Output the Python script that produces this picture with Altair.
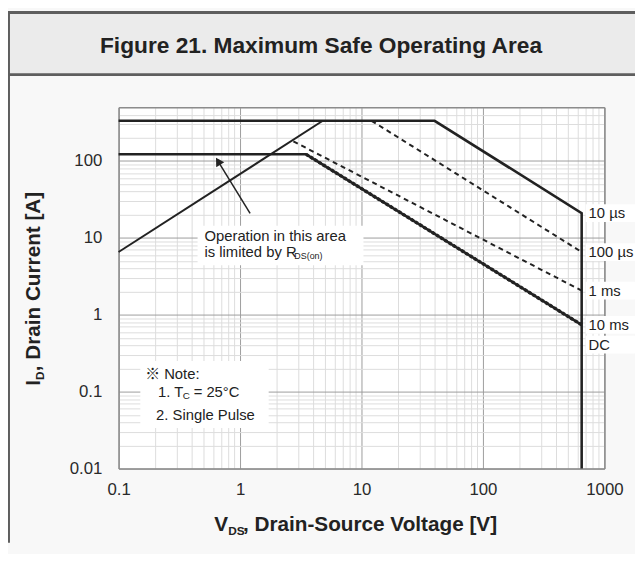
import altair as alt
import pandas as pd

# ---------------- data ----------------
x_domain = [0.1, 1000]
y_domain = [0.01, 500]
x_decades = [0.1, 1, 10, 100, 1000]
y_decades = [0.01, 0.1, 1, 10, 100]

V_10us = [0.1, 40, 650, 650]
I_10us = [333, 333, 21, 0.01]
V_100us = [12.1, 650]
I_100us = [333, 6.55]
V_1ms = [2.75, 650]
I_1ms = [180, 2.06]
V_10ms = [3.5, 650]
I_10ms = [122, 0.74]
V_dc = [0.1, 3.5, 650]
I_dc = [122, 122, 0.74]
V_rds = [0.1, 4.8]
I_rds = [6.55, 333]

curve_names = ["10 µs", "100 µs", "1 ms", "10 ms"]
dc_name = "DC"

arrow_V = [1.21, 0.66]
arrow_I = [20.8, 99]

title_text = "Figure 21. Maximum Safe Operating Area"

# ---------------- styling ----------------
FONT = "Liberation Sans, Arial, Noto Sans CJK JP"
INK = "#222222"
LBL = "#2a2a2a"
GRID_MAJOR = "#9c9c9c"
GRID_MINOR = "#dcdcdc"
BORDER = "#8c8c8c"
BG = "#f8f8f8"

x_grid = sorted(set([round(m * d, 6) for d in x_decades[:-1] for m in range(1, 10)] + [x_decades[-1]]))
y_grid = sorted(set([round(m * d, 6) for d in y_decades for m in range(1, 10) if m * d <= y_domain[1]]))

xs = alt.Scale(type="log", domain=x_domain, nice=False)
ys = alt.Scale(type="log", domain=y_domain, nice=False)

DEC = "abs(log(datum.value)/LN10 - round(log(datum.value)/LN10)) < 0.001"


def main_axis(values, pad):
    return alt.Axis(
        values=values, format="~g", labelExpr=f"({DEC}) ? datum.label : ''",
        grid=True, gridColor={"condition": {"test": DEC, "value": GRID_MAJOR}, "value": GRID_MINOR},
        gridWidth=1, ticks=False, tickSize=0, domain=True, domainColor=BORDER, domainWidth=1.5,
        labelFont=FONT, labelFontSize=17, labelColor=LBL, labelPadding=pad,
        labelFlush=False, labelOverlap=False, title=None)


def edge_axis(orient):
    return alt.Axis(orient=orient, labels=False, ticks=False, grid=False, domain=True,
                    domainColor=BORDER, domainWidth=1.5, title=None)


def curve(V, I, width, dash=None, xa=None, ya=None):
    df = pd.DataFrame({"V": V, "I": I, "k": list(range(len(V)))})
    kw = dict(color=INK, strokeWidth=width, strokeJoin="miter")
    if dash:
        kw["strokeDash"] = dash
    return alt.Chart(df).mark_line(**kw).encode(
        x=alt.X("V:Q", scale=xs, axis=xa),
        y=alt.Y("I:Q", scale=ys, axis=ya),
        order="k:Q")


ONE = alt.Data(values=[{"a": 1}])


def txt(s, x, y, size=15, weight="normal", align="left", baseline="middle", angle=0, color=INK):
    return alt.Chart(ONE).mark_text(
        text=s, font=FONT, fontSize=size, fontWeight=weight, align=align,
        baseline=baseline, angle=angle, color=color).encode(x=alt.value(x), y=alt.value(y))


def box(x1, x2, y1, y2, color):
    return alt.Chart(ONE).mark_rect(color=color).encode(
        x=alt.value(x1), x2=alt.value(x2), y=alt.value(y1), y2=alt.value(y2))


def rule(x1, x2, y1, y2, color, w):
    return alt.Chart(ONE).mark_rule(color=color, strokeWidth=w).encode(
        x=alt.value(x1), x2=alt.value(x2), y=alt.value(y1), y2=alt.value(y2))


# ---------------- layers ----------------
header = [
    box(-112, 523, -96, -32, "#ebebeb"),
    rule(-112, 523, -96, -96, "#5e5e5e", 3),
    rule(-112, 523, -33, -33, "#5e5e5e", 3),
    rule(-111, -111, -97, 441, "#5e5e5e", 2),
    txt(title_text, 205, -62, 23, "bold", align="center"),
]

white_boxes = [
    box(80, 248, 120, 160, "#ffffff"),
    box(22, 152, 257, 325, "#ffffff"),
]

l_10us = curve(V_10us, I_10us, 2.6, xa=main_axis(x_grid, 13), ya=main_axis(y_grid, 17))
l_dc = curve(V_dc, I_dc, 2.6, xa=edge_axis("top"), ya=edge_axis("right"))
l_rds = curve(V_rds, I_rds, 2.0)
l_100us = curve(V_100us, I_100us, 2.0, dash=[5, 4])
l_1ms = curve(V_1ms, I_1ms, 2.0, dash=[5, 4])
l_10ms = curve(V_10ms, I_10ms, 3.4, dash=[3, 2])

lab_df = pd.DataFrame({
    "V": [V_10us[2], V_100us[-1], V_1ms[-1], V_10ms[-1]],
    "I": [I_10us[2], I_100us[-1], I_1ms[-1], I_10ms[-1]],
    "label": curve_names,
})
dc_df = pd.DataFrame({"V": [V_dc[-1]], "I": [I_dc[-1]], "label": [dc_name]})

RECT_SHAPE = "M-1,-0.36L1,-0.36L1,0.36L-1,0.36Z"


def label_layer(df, dy):
    enc = dict(x=alt.X("V:Q", scale=xs, axis=None), y=alt.Y("I:Q", scale=ys, axis=None))
    bg = alt.Chart(df).mark_point(shape=RECT_SHAPE, size=2500, filled=True, color="#ffffff",
                                  opacity=1, strokeWidth=0, xOffset=29, yOffset=dy).encode(**enc)
    tx = alt.Chart(df).mark_text(align="left", baseline="middle", dx=7, dy=dy, font=FONT,
                                 fontSize=15, color=INK).encode(text="label:N", **enc)
    return [bg, tx]


arrow_df = pd.DataFrame({"V": arrow_V, "I": arrow_I, "k": [0, 1]})
arrow_shaft = alt.Chart(arrow_df).mark_line(color=INK, strokeWidth=1.5).encode(
    x=alt.X("V:Q", scale=xs, axis=None), y=alt.Y("I:Q", scale=ys, axis=None), order="k:Q")
arrow_head = alt.Chart(arrow_df.iloc[[1]]).mark_point(
    shape="triangle-up", filled=True, size=90, color=INK, opacity=1, angle=328.5).encode(
    x=alt.X("V:Q", scale=xs, axis=None), y=alt.Y("I:Q", scale=ys, axis=None))

texts = [
    # annotation
    txt("Operation in this area", 87, 130, 15),
    txt("is limited by R", 87, 147, 15),
    txt("DS(on)", 178, 151, 9),
    # note
    txt("※ Note:", 27, 270, 15),
    txt("1. T", 40, 288, 15),
    txt("C", 65, 292, 10),
    txt("= 25°C", 76, 288, 15),
    txt("2. Single Pulse", 38, 312, 15),
    # x title
    txt("V", 97, 429, 21, "bold", baseline="alphabetic"),
    txt("DS", 111, 433, 12, "bold", baseline="alphabetic"),
    txt(", Drain-Source Voltage [V]", 126, 429, 21, "bold", baseline="alphabetic"),
    # y title
    txt("I", -80, 282, 21, "bold", baseline="alphabetic", angle=270),
    txt("D", -76, 276.2, 12, "bold", baseline="alphabetic", angle=270),
    txt(", Drain Current [A]", -80, 267.5, 21, "bold", baseline="alphabetic", angle=270),
]

layers = (header + white_boxes +
          [l_10us, l_dc, l_rds, l_100us, l_1ms, l_10ms, arrow_shaft, arrow_head] +
          label_layer(lab_df, 0) + label_layer(dc_df, 20) + texts)

chart = alt.layer(*layers).resolve_axis(x="independent", y="independent").properties(
    width=492, height=366,
    padding={"left": 112, "top": 97, "right": 31, "bottom": 83},
    autosize=alt.AutoSizeParams(type="none"),
    background=BG,
).configure_view(fill="#ffffff", strokeWidth=0)

chart.save("out.html", embed_options={"renderer": "svg", "actions": False})
